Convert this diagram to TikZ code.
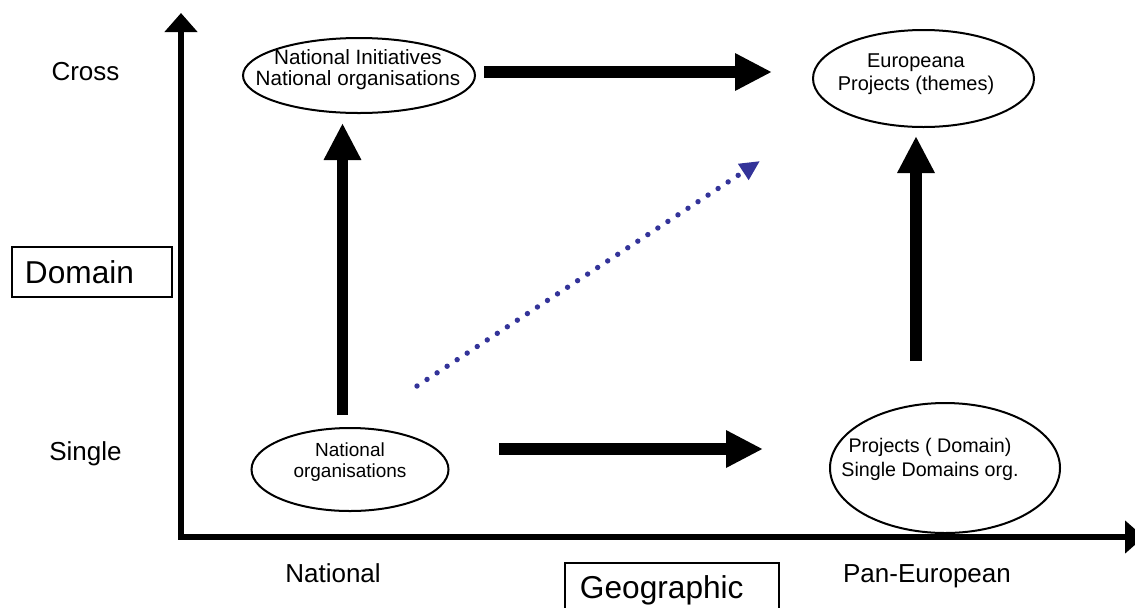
\documentclass[tikz,border=0pt]{standalone}
\usepackage{fontspec}
\setmainfont{Liberation Sans}
\usetikzlibrary{arrows.meta,shapes.geometric,calc}
\definecolor{dotblue}{RGB}{51,51,153}

\begin{document}
\begin{tikzpicture}[
    x=0.025cm, y=-0.025cm,
    oval/.style={draw, ellipse, line width=0.05cm, inner sep=0pt},
    axis/.style={line width=0.1375cm, line join=miter,
      >={Triangle[width=0.8cm,length=0.475cm]}, <->},
    fat/.style={line width=0.2875cm, -{Triangle[width=0.875cm,length=0.925cm]}},
    dotline/.style={dotblue, line width=0.135cm, line cap=round,
      dash pattern=on 0pt off 0.3cm, -{Triangle[width=0.45cm,length=0.5cm]}},
    axislabel/.style={anchor=base, font=\fontsize{18.5}{22}\selectfont},
    tagbox/.style={draw, line width=0.04cm, align=left,
      font=\fontsize{22.5}{27}\selectfont},
  ]
  % Sizes
  \pgfmathsetmacro{\pix}{0.025cm}
  \useasboundingbox (0,0) rectangle (1135,607);

  % axes
  \coordinate (ytop) at (181,13);
  \coordinate (origin) at (181,537);
  \coordinate (xend) at (1144,537);
  \draw[axis] (ytop) -- (origin) -- (xend);

  % ellipses
  \node[oval, minimum width=232*\pix, minimum height=75*\pix] (ni) at (359,75.5) {};
  \node[oval, minimum width=221*\pix, minimum height=97*\pix] (ep) at (923.5,78.5) {};
  \node[oval, minimum width=197*\pix, minimum height=83*\pix] (no) at (350,469.5) {};
  \node[oval, minimum width=230*\pix, minimum height=130*\pix] (po) at (945,468) {};

  % texts in the ellipses
  \node[align=center, font=\fontsize{14.7}{15}\selectfont] (ni-txt) at (358,70)
    {National Initiatives\\National organisations};
  \node[align=center, font=\fontsize{14.2}{16.3}\selectfont] (ep-txt) at (916,74.5)
    {Europeana\\Projects (themes)};
  \node[align=center, font=\fontsize{13.5}{15}\selectfont] (no-txt) at (350,462.5)
    {National\\organisations};
  \node[align=center, font=\fontsize{14}{17}\selectfont] (po-txt) at (930,459.5)
    {Projects ( Domain)\\Single Domains org.};

  % thick arrows
  \draw[fat] ($(ni.east)+(8,-3.5)$) -- ($(ep.west)+(-40,-6.5)$);
  \draw[fat] ($(no.east)+(49.5,-20.5)$) -- ($(po.west)+(-66,-19)$);
  \draw[fat] ($(no.north)+(-7.5,-12)$) -- ($(ni.south)+(-16.5,9)$);
  \draw[fat] ($(po.north)+(-29,-41)$) -- ($(ep.south)+(-7.5,8)$);

  % dotted arrow inbetween
  \coordinate (d0) at (417,386);
  \coordinate (d1) at (760,161);
  \draw[dotline] (d0) -- (d1);

  % labels
  \node[axislabel] (cross) at (85.5,80.5) {Cross};
  \node[axislabel] (single) at (85.5,460.5) {Single};
  \node[axislabel] (national) at (333,582) {National};
  \node[axislabel] (paneu) at (927,582) {Pan-European};
  \node[tagbox, text width=3.35cm, inner xsep=0.325cm, minimum height=1.25cm] (domain)
    at (92,272) {Domain};
  \node[tagbox, text width=4.6cm, inner xsep=0.375cm, minimum height=1.35cm] (geo)
    at (672,590) {Geographic};
\end{tikzpicture}
\end{document}
